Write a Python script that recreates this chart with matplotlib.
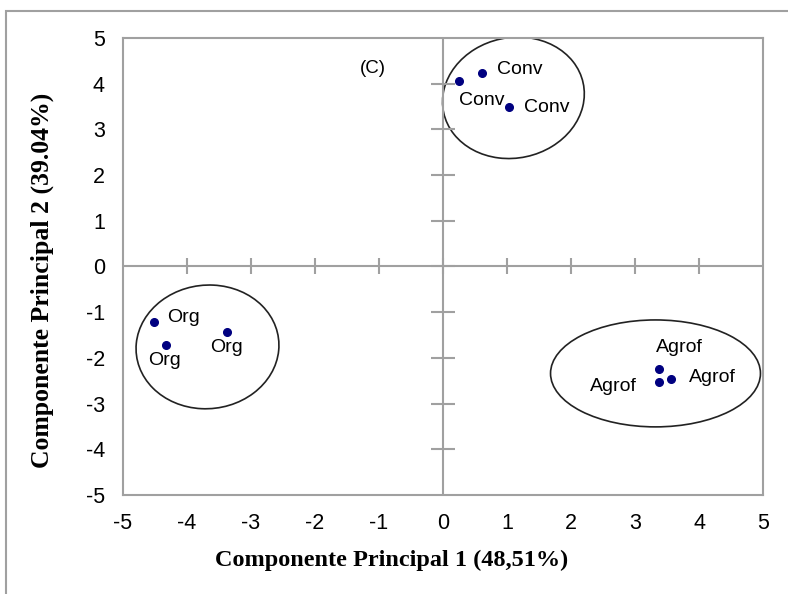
import numpy as np
import matplotlib
matplotlib.use('Agg')
import matplotlib.pyplot as plt
from matplotlib.patches import Ellipse, Rectangle

plt.rcParams['axes.unicode_minus'] = False

# scores on the first two principal components
groups = ['Conv', 'Org', 'Agrof']
pc1 = {'Conv': [0.25, 0.61, 1.03],
       'Org': [-4.51, -4.33, -3.37],
       'Agrof': [3.38, 3.38, 3.56]}
pc2 = {'Conv': [4.06, 4.23, 3.49],
       'Org': [-1.22, -1.71, -1.43],
       'Agrof': [-2.24, -2.53, -2.47]}

# label offsets (data units) for each point
lab_dx = {'Conv': [0.0, 0.23, 0.24],
          'Org': [0.2, -0.27, -0.27],
          'Agrof': [-0.05, -1.08, 0.28]}
lab_dy = {'Conv': [-0.42, 0.08, -0.02],
          'Org': [0.1, -0.35, -0.35],
          'Agrof': [0.46, -0.1, 0.03]}

# ellipses around groups: center x, center y, width, height, angle
ell_cx = [1.10, -3.68, 3.32]
ell_cy = [3.69, -1.76, -2.34]
ell_w = [2.2, 2.23, 3.28]
ell_h = [2.67, 2.71, 2.34]
ell_ang = [-10, -4, 0]

ticks = np.arange(-5, 6)
axcol = '#a0a0a0'

fig = plt.figure(figsize=(7.88, 5.94), dpi=100)
ax = fig.add_axes([0.1561, 0.1667, 0.8122, 0.7694])

fig.patches.append(Rectangle((6/788, -0.1), 1.2, 1 - 11/594 + 0.1,
                             transform=fig.transFigure, fill=False,
                             edgecolor=axcol, lw=1.5))

ax.set_xlim(-5, 5)
ax.set_ylim(-5, 5)
for s in ax.spines.values():
    s.set_color(axcol)
    s.set_linewidth(1.5)
ax.set_xticks(ticks)
ax.set_yticks(ticks)
ax.tick_params(length=0, labelsize=15.5, pad=13)
for t in ax.get_xticklabels() + ax.get_yticklabels():
    t.set_fontfamily('Liberation Sans')

# axes through origin with crossing ticks
ax.axhline(0, color=axcol, lw=1.5)
ax.axvline(0, color=axcol, lw=1.5)
inner = ticks[1:-1]
ax.plot(inner, np.zeros(len(inner)), ls='none', marker='|', ms=11,
        mew=1.5, color=axcol)
ax.plot(np.zeros(len(inner)), inner, ls='none', marker='_', ms=17,
        mew=1.5, color=axcol)

for i, g in enumerate(groups):
    ax.plot(pc1[g], pc2[g], 'o', color='#000080', ms=5.5, zorder=3)
    for x, y, dx, dy in zip(pc1[g], pc2[g], lab_dx[g], lab_dy[g]):
        ax.text(x + dx, y + dy, g, fontsize=14, family='Liberation Sans',
                va='center', ha='left')
    ax.add_patch(Ellipse((ell_cx[i], ell_cy[i]), ell_w[i], ell_h[i],
                         angle=ell_ang[i], fill=False, edgecolor='#222222',
                         lw=1.2))

ax.text(-1.3, 4.34, '(C)', fontsize=13.5, family='Liberation Sans',
        va='center', ha='left')

fig.text(392/788, 1 - 560/594, 'Componente Principal 1 (48,51%)',
         family='Liberation Serif', fontweight='bold', fontsize=17.5,
         ha='center', va='center')
fig.text(42/788, 1 - 280/594, 'Componente Principal 2 (39.04%)',
         family='Liberation Serif', fontweight='bold', fontsize=18.5,
         ha='center', va='center', rotation=90)

fig.savefig('out.png', dpi=100)
